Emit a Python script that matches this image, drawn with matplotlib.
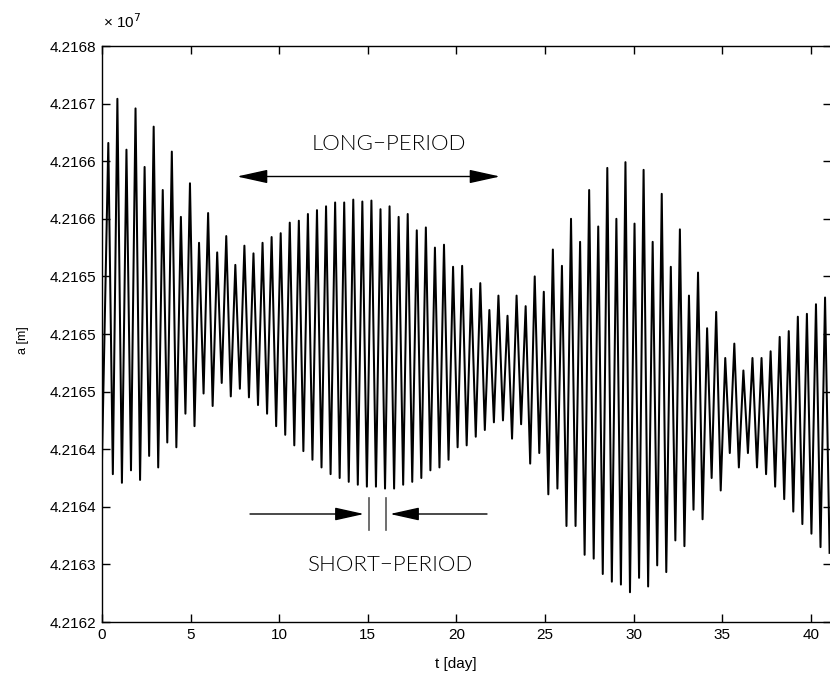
import numpy as np
import matplotlib
matplotlib.use("Agg")
import matplotlib.pyplot as plt
from matplotlib import font_manager

# ---- data (semi-major axis, metres) ----
peak_a = [42166990, 42167450, 42166920, 42167350, 42166740, 42167160, 42166500, 42166900,
          42166220, 42166570, 42165950, 42166260, 42165850, 42166020, 42165720, 42165920,
          42165840, 42165950, 42166010, 42166050, 42166160, 42166180, 42166250, 42166290,
          42166330, 42166370, 42166370, 42166400, 42166380, 42166390, 42166300, 42166330,
          42166220, 42166250, 42166080, 42166110, 42165900, 42165930, 42165700, 42165710,
          42165470, 42165530, 42165250, 42165400, 42165190, 42165400, 42165290, 42165600,
          42165440, 42165880, 42165710, 42166200, 42165960, 42166500, 42166120, 42166730,
          42166200, 42166790, 42166150, 42166710, 42165960, 42166460, 42165700, 42166090,
          42165400, 42165640, 42165060, 42165230, 42164750, 42164900, 42164620, 42164750,
          42164750, 42164820, 42164970, 42165030, 42165180, 42165210, 42165310, 42165380]
trough_a = [42163540, 42163450, 42163580, 42163480, 42163730, 42163610, 42163870, 42163820,
            42164170, 42164040, 42164380, 42164250, 42164490, 42164350, 42164430, 42164340,
            42164260, 42164170, 42164040, 42163950, 42163840, 42163780, 42163690, 42163610,
            42163540, 42163500, 42163460, 42163430, 42163410, 42163410, 42163390, 42163390,
            42163430, 42163460, 42163500, 42163580, 42163610, 42163690, 42163820, 42163840,
            42163930, 42164000, 42164080, 42164100, 42163910, 42164060, 42163650, 42163760,
            42163330, 42163390, 42163000, 42163000, 42162700, 42162660, 42162500, 42162420,
            42162390, 42162310, 42162460, 42162370, 42162590, 42162520, 42162850, 42162790,
            42163170, 42163070, 42163500, 42163370, 42163760, 42163610, 42163760, 42163610,
            42163540, 42163410, 42163280, 42163150, 42163020, 42162920, 42162780, 42162720]
a_start = 42163690          # value at t = 0
t_first_peak = 0.356        # day
half_day_period = 0.512     # day, spacing of successive peaks

xticks = [0, 5, 10, 15, 20, 25, 30, 35, 40]
ytick_vals = np.linspace(42162000, 42168000, 11)
ytick_labels = ['4.2162', '4.2163', '4.2164', '4.2164', '4.2165', '4.2165',
                '4.2165', '4.2166', '4.2166', '4.2167', '4.2168']

# ---- build the curve (alternating peaks / troughs) ----
n = len(peak_a)
tp = t_first_peak + np.arange(n) * half_day_period
tt = tp + half_day_period / 2
t = np.empty(2 * n + 1)
a = np.empty(2 * n + 1)
t[0], a[0] = 0.0, a_start
t[1::2], a[1::2] = tp, peak_a
t[2::2], a[2::2] = tt, trough_a

W, H = 830, 675
fig = plt.figure(figsize=(W / 100, H / 100), dpi=100)
ax = fig.add_axes([102 / W, 1 - 622 / H, (830.8 - 102) / W, (622 - 46) / H])

ax.plot(t, a, color='black', lw=1.45)

ax.set_xlim(0, (830.8 - 102) / 17.72)
ax.set_ylim(42162000, 42168000)
ax.set_xticks(xticks)
ax.set_xticklabels([str(v) for v in xticks])
ax.set_yticks(ytick_vals)
ax.set_yticklabels(ytick_labels)

tickfont = 'Liberation Sans'
for lab in ax.get_xticklabels() + ax.get_yticklabels():
    lab.set_fontfamily(tickfont)
    lab.set_fontsize(11)
ax.tick_params(direction='in', length=6, width=1, top=True, right=True,
               pad=4, colors='black')
for s in ax.spines.values():
    s.set_linewidth(1)

ax.set_xlabel('t [day]', fontfamily=tickfont, fontsize=11, labelpad=2)
ax.xaxis.set_label_coords((456 - 102) / (830.8 - 102), -0.06)
ax.set_ylabel('a [m]', fontfamily=tickfont, fontsize=9)
ax.yaxis.set_label_coords(-0.100, 0.49)

fig.text(103 / W, 1 - 22 / H, '× 10$^{7}$', fontfamily=tickfont, fontsize=11,
         ha='left', va='center')

# ---- annotations ----
def px2t(x):
    return (x - 102) / 17.72

def px2a(y):
    return 42168000 - (y - 46) * 6000 / 576

ann_fp = font_manager.FontProperties(family='Lato', weight=300, size=16)
try:
    if 'Hairline' in font_manager.findfont(ann_fp) or 'Thin' in font_manager.findfont(ann_fp):
        ann_fp = font_manager.FontProperties(family='Lato', weight='normal', size=16)
except Exception:
    ann_fp = font_manager.FontProperties(family='Lato', weight='normal', size=16)

ax.annotate('', xy=(px2t(500), px2a(176.5)), xytext=(px2t(237), px2a(176.5)),
            arrowprops=dict(arrowstyle='<|-|>,head_length=1.9,head_width=0.42',
                            color='black', lw=1, shrinkA=0, shrinkB=0))
ax.text(px2t(389), px2a(144), 'LONG−PERIOD', fontproperties=ann_fp,
        ha='center', va='center')

ax.annotate('', xy=(px2t(364), px2a(514)), xytext=(px2t(250), px2a(514)),
            arrowprops=dict(arrowstyle='-|>,head_length=1.8,head_width=0.4',
                            color='black', lw=1, shrinkA=0, shrinkB=0))
ax.annotate('', xy=(px2t(390), px2a(514)), xytext=(px2t(487), px2a(514)),
            arrowprops=dict(arrowstyle='-|>,head_length=1.8,head_width=0.4',
                            color='black', lw=1, shrinkA=0, shrinkB=0))
for xv in (368.5, 385.5):
    ax.plot([px2t(xv), px2t(xv)], [px2a(498), px2a(530)], color='#555555', lw=1.2)
ax.text(px2t(391), px2a(565), 'SHORT−PERIOD', fontproperties=ann_fp,
        ha='center', va='center')

fig.savefig('out.png', dpi=100)
